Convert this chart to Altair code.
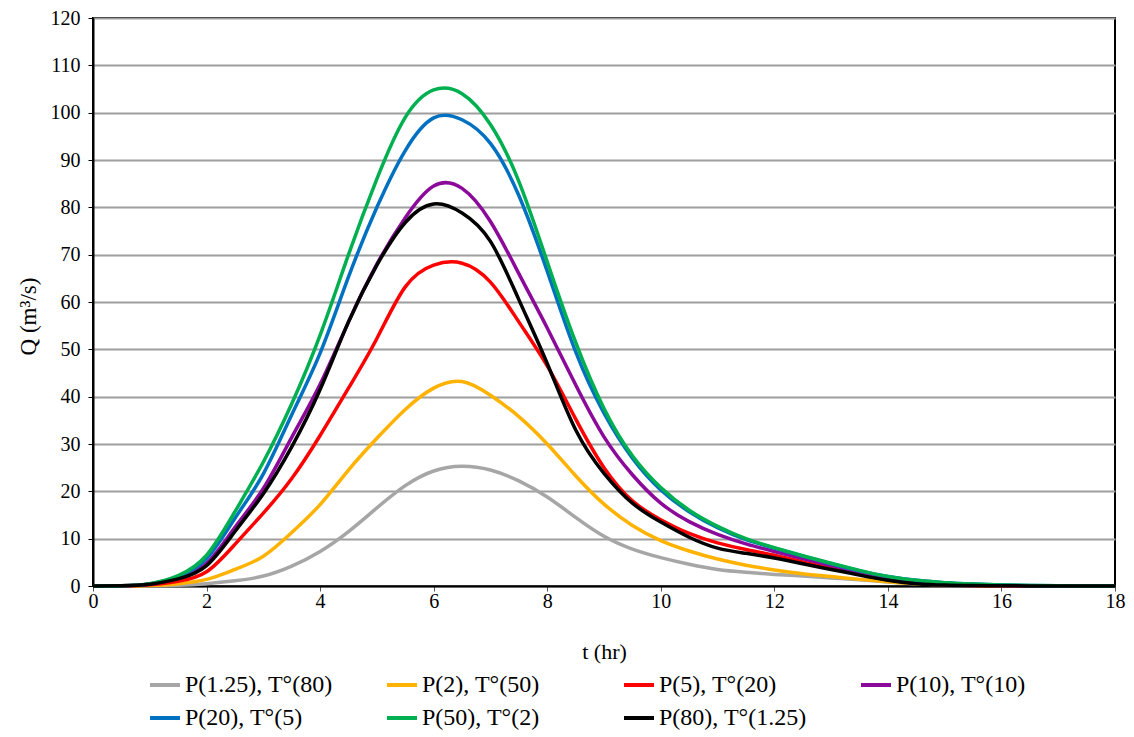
import altair as alt
import pandas as pd

t = [0, 0.5, 1, 1.5, 2, 2.5, 3, 3.5, 4, 4.5, 5, 5.5, 6, 6.5, 7, 7.5, 8, 8.5, 9,
     9.5, 10, 10.5, 11, 11.5, 12, 12.5, 13, 13.5, 14, 14.5, 15, 15.5, 16, 16.5,
     17, 17.5, 18]

names = ["P(1.25), T°(80)", "P(2), T°(50)", "P(5), T°(20)", "P(10), T°(10)",
         "P(20), T°(5)", "P(50), T°(2)", "P(80), T°(1.25)"]
colors = ["#A6A6A6", "#FFB300", "#FF0000", "#8B0A99", "#0070C0", "#00B050", "#000000"]

q_p125 = [0, 0, 0.03, 0.15, 0.5, 1.1, 2.1, 4.2, 7.3, 11.5, 16.5, 21.2, 24.3, 25.3,
          24.5, 22.2, 18.8, 14.5, 10.5, 7.8, 6.0, 4.6, 3.5, 2.9, 2.45, 2.1, 1.7,
          1.3, 0.85, 0.5, 0.3, 0.15, 0.05, 0.02, 0, 0, 0]
q_p2 = [0, 0.01, 0.1, 0.5, 1.4, 3.5, 6.3, 11.3, 17.2, 24.5, 31.2, 37.3, 41.8, 43.2,
        40.3, 35.8, 30, 23.3, 17.3, 12.8, 9.6, 7.4, 5.7, 4.4, 3.4, 2.6, 2.0, 1.4,
        0.9, 0.5, 0.3, 0.15, 0.05, 0.02, 0, 0, 0]
q_p5 = [0, 0.02, 0.25, 1.0, 3.0, 8.8, 15.4, 22.7, 31.8, 41.8, 52.3, 63.2, 67.8,
        68.2, 64.2, 55.8, 46.5, 35.3, 25.0, 18.0, 14.0, 11.1, 9.1, 7.7, 6.5, 5.1,
        3.8, 2.5, 1.3, 0.6, 0.3, 0.1, 0.05, 0.02, 0, 0, 0]
q_p10 = [0, 0.03, 0.4, 1.7, 4.8, 12.4, 20.6, 31.4, 42.6, 55.8, 68, 77.8, 84.5,
         84, 77, 66, 54.5, 42.5, 31.5, 23.5, 17.5, 13.6, 10.9, 8.9, 7.3, 5.8,
         4.3, 2.9, 1.6, 0.8, 0.4, 0.2, 0.08, 0.03, 0, 0, 0]
q_p20 = [0, 0.04, 0.45, 2.0, 5.8, 14.3, 23.7, 36.2, 49.2, 65.3, 80, 92, 98.9, 98.5,
         93.5, 82.5, 66.5, 49.5, 36.5, 27, 20.3, 15.7, 12.3, 9.8, 8.0, 6.3, 4.7,
         3.2, 2.0, 1.2, 0.7, 0.4, 0.2, 0.1, 0.05, 0.02, 0]
q_p50 = [0, 0.05, 0.5, 2.2, 6.5, 15.7, 26.2, 38.5, 53, 70, 86, 99, 104.8, 104,
         97.5, 85.5, 68.5, 51.5, 37.5, 27.5, 20.8, 16, 12.6, 10, 8.1, 6.4, 4.8,
         3.3, 2.0, 1.2, 0.7, 0.4, 0.2, 0.1, 0.05, 0.02, 0]
q_p80 = [0, 0.03, 0.35, 1.5, 4.3, 11.5, 19.5, 29.4, 41.5, 55.8, 67.8, 76.8, 80.7,
         78.8, 72.8, 60.5, 47, 33, 23.8, 17.5, 13.5, 10.3, 8.0, 6.9, 5.9, 4.7,
         3.5, 2.3, 1.2, 0.5, 0.2, 0.1, 0.05, 0.02, 0, 0, 0]

series = [q_p125, q_p2, q_p5, q_p10, q_p20, q_p50, q_p80]

rows = []
for name, vals in zip(names, series):
    for tt, v in zip(t, vals):
        rows.append({"t": tt, "Q": v, "series": name})
df = pd.DataFrame(rows)

FONT = "Liberation Serif"

color_enc = alt.Color(
    "series:N",
    scale=alt.Scale(domain=names, range=colors),
    legend=alt.Legend(
        title=None, orient="none", legendX=55, legendY=650, direction="horizontal",
        columns=4, gridAlign="all", columnPadding=46, rowPadding=4,
        symbolType="stroke", symbolStrokeWidth=4, symbolSize=900,
        labelFont=FONT, labelFontSize=24, labelColor="black", labelOffset=3,
        labelLimit=300,
    ),
)

x_enc = alt.X(
    "t:Q",
    scale=alt.Scale(domain=[0, 18], nice=False, zero=False),
    axis=alt.Axis(
        values=[0, 2, 4, 6, 8, 10, 12, 14, 16, 18], title="t (hr)", grid=False,
        labelFont=FONT, labelFontSize=20, labelColor="black", labelPadding=0,
        labelFlush=False, labelOverlap=False,
        titleFont=FONT, titleFontSize=22, titleFontWeight="normal", titleColor="black",
        titlePadding=30, domainColor="black", domainWidth=2, tickColor="#555555",
        tickSize=5, tickWidth=1,
    ),
)
y_enc = alt.Y(
    "Q:Q",
    scale=alt.Scale(domain=[0, 120], nice=False),
    axis=alt.Axis(
        values=list(range(0, 121, 10)), title="Q (m³/s)", grid=True,
        gridColor="#9E9E9E", gridWidth=2, labelFont=FONT, labelFontSize=20,
        labelColor="black", labelPadding=8, labelFlush=False, labelOverlap=False,
        titleFont=FONT, titleFontSize=23,
        titleFontWeight="normal", titleColor="black", titlePadding=10, titleY=298,
        domainColor="black", domainWidth=2, tickColor="black", tickSize=5, tickWidth=1,
    ),
)

layers = []
for name in names:
    layers.append(
        alt.Chart(df)
        .transform_filter(alt.datum.series == name)
        .mark_line(strokeWidth=3.5, interpolate="natural")
        .encode(x=x_enc, y=y_enc, color=color_enc)
    )

chart = (
    alt.layer(*layers)
    .properties(
        width=1022, height=568,
        autosize=alt.AutoSizeParams(type="none"),
        padding={"left": 93, "top": 18, "right": 19, "bottom": 151},
        background="white",
    )
    .configure_view(stroke="black", strokeWidth=2)
)

chart.save("out.html", embed_options={"renderer": "svg", "actions": False})
